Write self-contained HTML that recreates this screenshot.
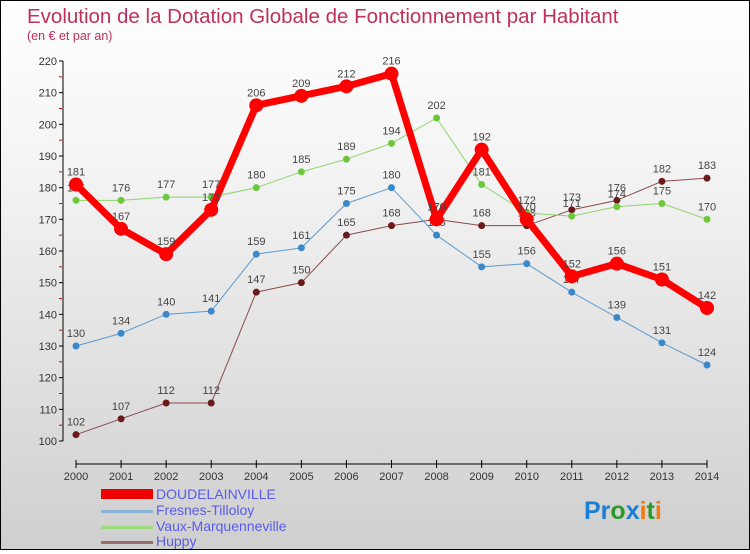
<!DOCTYPE html>
<html><head><meta charset="utf-8"><style>
body{margin:0}
#c{width:748px;height:548px;border:1px solid #000;background:linear-gradient(#fff,#f4f4f4 30%,#cfcfcf);position:relative;font-family:"Liberation Sans",sans-serif}
text{font-family:"Liberation Sans",sans-serif}
</style></head><body>
<div id="c">
<svg id="s" width="748" height="548">
<text x="26" y="22" font-size="20.5" fill="#c0305a">Evolution de la Dotation Globale de Fonctionnement par Habitant</text>
<text x="26" y="39" font-size="12.5" fill="#c0305a">(en € et par an)</text>
<g id="ax"></g><g id="ser"></g>
<g>
<rect x="100" y="488" width="52" height="10" fill="#e00"/>
<text x="155" y="498" font-size="14" fill="#5a5aee">DOUDELAINVILLE</text>
<rect x="100" y="509" width="52" height="3" fill="#8ab4d6"/>
<text x="155" y="514" font-size="14" fill="#5a5aee">Fresnes-Tilloloy</text>
<rect x="100" y="525" width="52" height="3" fill="#9ddc7a"/>
<text x="155" y="530" font-size="14" fill="#5a5aee">Vaux-Marquenneville</text>
<rect x="100" y="540" width="52" height="3" fill="#9a6b6b"/>
<text x="155" y="545" font-size="14" fill="#5a5aee">Huppy</text>
</g>
<text x="583" y="518" font-size="25" font-weight="bold"><tspan fill="#1a7fd4">Pr</tspan><tspan fill="#2a9a2a">o</tspan><tspan fill="#1a7fd4">x</tspan><tspan fill="#f07a10">i</tspan><tspan fill="#2a9a2a">t</tspan><tspan fill="#f07a10">i</tspan></text>
</svg></div>
<script>
const years=[2000,2001,2002,2003,2004,2005,2006,2007,2008,2009,2010,2011,2012,2013,2014];
const yTicks=[100,110,120,130,140,150,160,170,180,190,200,210,220];
const doud=[181,167,159,173,206,209,212,216,170,192,170,152,156,151,142];
const fresnes=[130,134,140,141,159,161,175,180,165,155,156,147,139,131,124];
const vaux=[176,176,177,177,180,185,189,194,202,181,172,171,174,175,170];
const huppy=[102,107,112,112,147,150,165,168,170,168,168,173,176,182,183];
const NS="http://www.w3.org/2000/svg";
const X=i=>75+i*(631/14), Y=v=>440-(v-100)*380/120;
function mk(t,a,p){const e=document.createElementNS(NS,t);for(const k in a)e.setAttribute(k,a[k]);p.appendChild(e);return e;}
const ax=document.getElementById('ax'),ser=document.getElementById('ser');
const ya=mk('line',{x1:62,y1:Y(220),x2:62,y2:Y(100),stroke:'#000'},ax);

yTicks.forEach(v=>{mk('line',{x1:58,x2:62,y1:Y(v),y2:Y(v),stroke:'#000'},ax);
 if(v<220)mk('line',{x1:58,x2:61,y1:Y(v+5),y2:Y(v+5),stroke:'#e00'},ax);
 const t=mk('text',{x:56,y:Y(v)+4,'text-anchor':'end','font-size':11,fill:'#333'},ax);t.textContent=v;
 });
const xa=mk('line',{x1:75,x2:706,y1:463,y2:463,stroke:'#000'},ax);

years.forEach((y,i)=>{mk('line',{x1:X(i),x2:X(i),y1:459,y2:467,stroke:'#000'},ax);
 const t=mk('text',{x:X(i),y:479,'text-anchor':'middle','font-size':11,fill:'#333'},ax);t.textContent=y;
 });
function draw(d,col,dot,w,r,name){
 const g=mk('g',{},ser);
 
 mk('polyline',{points:d.map((v,i)=>X(i)+','+Y(v)).join(' '),fill:'none',stroke:col,'stroke-width':w,'stroke-linejoin':'round'},g);
 d.forEach((v,i)=>{const c=mk('circle',{cx:X(i),cy:Y(v),r:r,fill:dot},g);
  
  const t=mk('text',{x:X(i),y:Y(v)-9,'text-anchor':'middle','font-size':11,fill:'#444'},g);t.textContent=v;
  });
}
draw(huppy,'#8a4a4a','#6a1a1a',1,3.5,'huppy');
draw(vaux,'#8fd46a','#6cc83a',1,3.5,'vaux');
draw(fresnes,'#5a9ad0','#3a88c8',1,3.5,'fresnes');
draw(doud,'#f00','#f00',7,7,'doudelainville');
</script></body></html>
